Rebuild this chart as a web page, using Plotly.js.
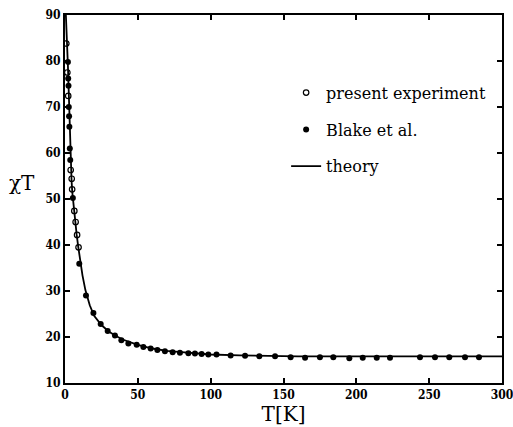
<!DOCTYPE html>
<html>
<head>
<meta charset="utf-8">
<script src="https://cdn.plot.ly/plotly-3.0.1.min.js"></script>
<style>html,body{margin:0;padding:0;background:#fff}#chart{width:513px;height:427px}</style>
</head>
<body>
<div id="chart"></div>
<script>
// present experiment (open circles)
const presentT  = [0.9, 1.6, 2.2, 3.9, 4.6, 4.9, 6.4, 7.3, 8.3, 9.3];
const presentChi = [83.8, 77.5, 72.4, 56.3, 54.4, 52.1, 47.4, 45.0, 42.2, 39.5];

// Blake et al. (filled circles)
const blakeT = [2.0, 2.2, 2.4, 2.6, 2.8, 3.0, 3.3, 3.6, 5.4, 9.8, 14.4, 19.5, 24.5, 29.3, 34.3, 38.7, 43.5, 49.2,
  53.8, 58.8, 63.4, 68.6, 73.9, 78.9, 84.7, 89.2, 93.8, 98.4, 104, 113.7, 123.6, 133.4, 144.2, 154.9, 164.8,
  175, 184.2, 195.2, 204.4, 214, 223.1, 243.7, 254, 263.8, 274.6, 284.2];
const blakeChi = [79.8, 76.2, 74.6, 70.0, 68.0, 65.7, 61.0, 58.5, 50.2, 35.9, 29.0, 25.2, 22.8, 21.3, 20.3, 19.3, 18.6, 18.3,
  17.8, 17.5, 17.2, 16.9, 16.7, 16.6, 16.45, 16.4, 16.3, 16.2, 16.2, 16.0, 15.9, 15.8, 15.8, 15.6, 15.5,
  15.6, 15.6, 15.4, 15.5, 15.5, 15.5, 15.6, 15.6, 15.6, 15.6, 15.6];

// theory (solid line)
const theoryT = [0.6, 1, 1.5, 2, 2.5, 3, 3.5, 4, 4.5, 5, 6, 7, 8, 9, 10, 12, 14, 17, 20, 25, 30, 35, 40, 50,
  60, 70, 80, 90, 100, 120, 140, 160, 200, 250, 300];
const theoryChi = [90, 85, 82, 79, 74, 67.5, 61.5, 57, 54, 51.5, 48, 45, 42.3, 39.8, 37.4, 33.4, 30.2, 26.9, 24.6, 22.6,
  21.2, 20.2, 19.4, 18.3, 17.5, 17.0, 16.7, 16.4, 16.2, 16.0, 15.9, 15.8, 15.8, 15.8, 15.8];

const xTicks = [0, 50, 100, 150, 200, 250, 300];
const yTicks = [10, 20, 30, 40, 50, 60, 70, 80, 90];

const serif = 'DejaVu Serif, Liberation Serif, serif';

const traces = [
  {x: presentT, y: presentChi, mode: 'markers', name: 'present experiment', legendgroup: 'a',
   marker: {symbol: 'circle-open', size: 5.5, color: '#000', line: {width: 1.2, color: '#000'}}},
  {x: blakeT, y: blakeChi, mode: 'markers', name: 'Blake et al.', legendgroup: 'b',
   marker: {symbol: 'circle', size: 6, color: '#000'}},
  {x: theoryT, y: theoryChi, mode: 'lines', name: 'theory', legendgroup: 'c',
   line: {color: '#000', width: 1.8}}
];

const axisCommon = {
  showgrid: false, zeroline: false, showline: true, linecolor: '#000', linewidth: 2,
  mirror: 'ticks', ticks: 'inside', ticklen: 5, tickwidth: 2, tickcolor: '#000',
  ticklabeloverflow: 'allow',
  tickfont: {family: 'DejaVu Serif Condensed, DejaVu Serif, serif', size: 12, color: '#000'}
};

const bold = v => '<b>' + v + '</b>';

const layout = {
  width: 513, height: 427,
  margin: {l: 65, r: 11, t: 15, b: 44},
  paper_bgcolor: '#fff', plot_bgcolor: '#fff',
  showlegend: true,
  legend: {x: 0.506, y: 0.835, xanchor: 'left', yanchor: 'top', traceorder: 'grouped', tracegroupgap: 13,
    bgcolor: 'rgba(0,0,0,0)', font: {family: serif, size: 16, color: '#000'}},
  xaxis: Object.assign({}, axisCommon, {range: [0, 300], tickvals: xTicks, ticktext: xTicks.map(bold),
    title: {text: 'T[K]', font: {family: serif, size: 20, color: '#000'}, standoff: 5}}),
  yaxis: Object.assign({}, axisCommon, {range: [10, 90], tickvals: yTicks, ticktext: yTicks.map(bold)}),
  annotations: [{text: 'χT', xref: 'paper', yref: 'paper', x: -0.098, y: 0.543, xanchor: 'center', yanchor: 'middle',
    showarrow: false, font: {family: serif, size: 20, color: '#000'}}]
};

Plotly.newPlot('chart', traces, layout, {staticPlot: true, displayModeBar: false});
</script>
</body>
</html>
